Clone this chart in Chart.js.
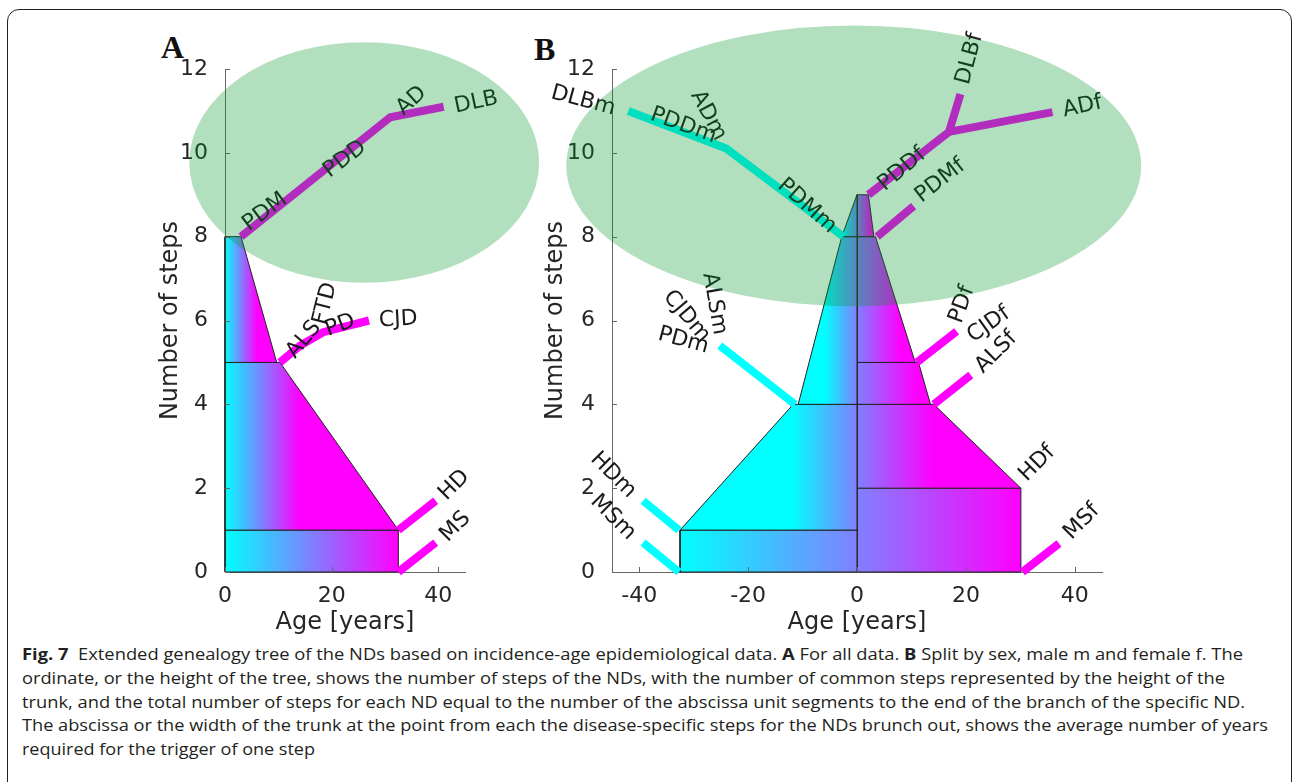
<!DOCTYPE html>
<html>
<head>
<meta charset="utf-8">
<script src="https://cdn.jsdelivr.net/npm/chart.js@4.4.1/dist/chart.umd.min.js"></script>
<style>
  body { margin: 0; background: #fff; width: 1292px; height: 782px; overflow: hidden; position: relative; }
  .frame { position: absolute; left: 7px; top: 9px; width: 1283px; height: 820px; border: 1.3px solid #222; border-radius: 12px; }
  canvas { position: absolute; }
  #chartA { left: 140px; top: 20px; }
  #chartB { left: 540px; top: 20px; }
  .panel { position: absolute; font: bold 32px "Liberation Serif", serif; line-height: 32px; color: #111; }
  .caption { position: absolute; left: 22px; top: 643px; font: 16px "Open Sans", sans-serif; color: #231f20; }
  .caption div { height: 23.75px; line-height: 23.75px; white-space: nowrap; }
  .caption .line { display: inline-block; transform-origin: 0 0; }
</style>
</head>
<body>
<div class="frame"></div>
<div class="panel" style="left:161px; top:31px">A</div>
<div class="panel" style="left:534px; top:33px">B</div>
<canvas id="chartA" width="400" height="620"></canvas>
<canvas id="chartB" width="620" height="620"></canvas>
<div class="caption">
  <div><span class="line"><b>Fig. 7</b>&nbsp; Extended genealogy tree of the NDs based on incidence-age epidemiological data. <b>A</b> For all data. <b>B</b> Split by sex, male m and female f. The</span></div>
  <div><span class="line">ordinate, or the height of the tree, shows the number of steps of the NDs, with the number of common steps represented by the height of the</span></div>
  <div><span class="line">trunk, and the total number of steps for each ND equal to the number of the abscissa unit segments to the end of the branch of the specific ND.</span></div>
  <div><span class="line">The abscissa or the width of the trunk at the point from each the disease-specific steps for the NDs brunch out, shows the average number of years</span></div>
  <div><span class="line">required for the trigger of one step</span></div>
</div>
<script>
// caption lines stretched to the widths of the printed figure
const captionWidths = [1221, 1203, 1223, 1246, 293];
document.querySelectorAll('.caption .line').forEach((el, i) => {
  const w = el.getBoundingClientRect().width;
  el.style.transform = 'scaleX(' + (captionWidths[i] / w) + ')';
});

// ---- axes ----
const stepTicks = [0, 2, 4, 6, 8, 10, 12];
const ageTicksA = [0, 20, 40];
const ageTicksB = [-40, -20, 0, 20, 40];

// ---- A: all data, [age, steps] ----
const trunkA1 = [[0, 0], [32.5, 0], [32.5, 1], [0, 1]];
const trunkA2 = [[0, 1], [32.5, 1], [10.3, 5], [0, 5]];
const trunkA3 = [[0, 5], [9.7, 5], [3, 8], [0, 8]];

const branchDementia = [[3, 8], [31, 10.85], [41, 11.1]];
const branchALS = [[10.3, 5], [14.1, 5.4], [18.4, 5.72], [27, 6]];
const branchHD = [[32.5, 1], [39.5, 1.7]];
const branchMS = [[32.5, 0], [39.5, 0.7]];

const labelsA = [
  ['PDM', 7.5, 8.59, -37], ['PDD', 22.5, 9.85, -37], ['AD', 35.0, 11.24, -42], ['DLB', 47.1, 11.2, -12],
  ['ALS', 14.8, 5.54, -50], ['FTD', 18.8, 6.4, -76], ['PD', 21.6, 5.88, -20], ['CJD', 32.5, 6.02, -3],
  ['HD', 43, 2.07, -45], ['MS', 43.2, 1.08, -45]
];
const clusterA = [26.1, 9.77, 32.8, 2.87]; // centre age, centre steps, half width, half height

// ---- B: male (negative age) and female ----
const trunkM1 = [[-32.5, 0], [0, 0], [0, 1], [-32.5, 1]];
const trunkM2 = [[-32.5, 1], [0, 1], [0, 4], [-11.7, 4]];
const trunkM3 = [[-10.8, 4], [0, 4], [0, 8], [-2.8, 8]];
const trunkM4 = [[-2.8, 8], [0, 8], [0, 9]];
const trunkF1 = [[0, 0], [30.1, 0], [30.1, 2], [0, 2]];
const trunkF2 = [[0, 2], [30.1, 2], [14.1, 4], [0, 4]];
const trunkF3 = [[0, 4], [13.5, 4], [11.3, 5], [0, 5]];
const trunkF4 = [[0, 5], [10.7, 5], [3.4, 8], [0, 8]];
const trunkF5 = [[0, 8], [3.1, 8], [2.1, 9], [0, 9]];

const branchDementiaM = [[-2.5, 8], [-24, 10.1], [-42, 11]];
const branchALSM = [[-11.4, 4], [-25.2, 5.4]];
const branchHDM = [[-32.7, 1], [-39.3, 1.7]];
const branchMSM = [[-32.7, 0], [-39.3, 0.7]];
const branchDementiaF = [[2.1, 9], [16.9, 10.5], [19, 11.4]];
const branchADF = [[16.9, 10.5], [35.9, 10.97]];
const branchPDMF = [[3.7, 8], [10.4, 8.73]];
const branchPDF = [[11, 5], [18.3, 5.74]];
const branchALSF = [[14.1, 4], [20.9, 4.7]];
const branchMSF = [[30.4, 0], [37.1, 0.68]];

const labelsB = [
  ['DLBm', -50.3, 11.24, 15], ['PDDm', -31.9, 10.65, 20], ['ADm', -27.3, 10.89, 62], ['PDMm', -9.2, 8.73, 42],
  ['ALSm', -26.2, 6.4, 80], ['CJDm', -31.3, 6.1, 50], ['PDm', -31.9, 5.52, 15],
  ['HDm', -44.8, 2.31, 45], ['MSm', -44.8, 1.3, 45],
  ['PDDf', 8.3, 9.6, -40], ['PDMf', 15.3, 9.33, -38], ['DLBf', 20.7, 12.24, -75], ['ADf', 41.4, 11.1, -12],
  ['PDf', 19.3, 6.38, -70], ['CJDf', 24.2, 5.9, -35], ['ALSf', 25.6, 5.24, -45],
  ['HDf', 33.1, 2.59, -45], ['MSf', 41.3, 1.2, -45]
];
const clusterB = [-0.6, 9.69, 52.8, 3.35];

const CYAN = 'rgb(0,255,255)', MAGENTA = 'rgb(255,0,255)', MID = 'rgb(128,128,255)';
const FONT = '"DejaVu Sans", sans-serif';

const pts = arr => arr.map(([x, y]) => ({x, y}));

function branch(arr, color) {
  return { data: pts(arr), borderColor: color, borderWidth: 8, borderCapStyle: 'butt', borderJoinStyle: 'miter',
           fill: false, pointRadius: 0, tension: 0, clip: false };
}

function tier(arr, from, to, c0, c1) {
  return {
    data: pts([...arr, arr[0]]), borderColor: '#222', borderWidth: 1, fill: 'shape', pointRadius: 0, tension: 0, clip: false,
    backgroundColor: c => {
      const sx = c.chart.scales.x;
      if (!sx) return c0;
      const x0 = sx.getPixelForValue(from), x1 = sx.getPixelForValue(to);
      if (!isFinite(x0) || !isFinite(x1) || x0 === x1) return c0;
      const g = c.chart.ctx.createLinearGradient(x0, 0, x1, 0);
      g.addColorStop(0, c0);
      g.addColorStop(1, c1);
      return g;
    }
  };
}

// inward ticks, branch names and the translucent cluster ellipse
function decor(labels, cluster) {
  return {
    id: 'decor',
    afterDraw(chart) {
      const {ctx, scales: {x, y}} = chart;
      ctx.save();
      ctx.strokeStyle = '#666';
      ctx.lineWidth = 1;
      ctx.beginPath();
      x.ticks.forEach(t => {
        const px = Math.round(x.getPixelForValue(t.value)) + 0.5;
        ctx.moveTo(px, y.bottom); ctx.lineTo(px, y.bottom - 5);
      });
      y.ticks.forEach(t => {
        const py = Math.round(y.getPixelForValue(t.value)) + 0.5;
        ctx.moveTo(x.left, py); ctx.lineTo(x.left + 5, py);
      });
      ctx.stroke();

      ctx.font = '22px ' + FONT;
      ctx.fillStyle = '#1a1a1a';
      ctx.textAlign = 'center';
      ctx.textBaseline = 'middle';
      labels.forEach(([text, age, steps, rot]) => {
        ctx.save();
        ctx.translate(x.getPixelForValue(age), y.getPixelForValue(steps));
        ctx.rotate(rot * Math.PI / 180);
        ctx.fillText(text, 0, 0);
        ctx.restore();
      });

      const [cx, cy, rx, ry] = cluster;
      const px = x.getPixelForValue(cx), py = y.getPixelForValue(cy);
      ctx.fillStyle = 'rgba(0,150,40,0.3)';
      ctx.beginPath();
      ctx.ellipse(px, py, Math.abs(x.getPixelForValue(cx + rx) - px), Math.abs(y.getPixelForValue(cy + ry) - py), 0, 0, Math.PI * 2);
      ctx.fill();
      ctx.restore();
    }
  };
}

function scales(xMin, xMax, xTicks, yWidth, yTitlePad) {
  const tickFont = {family: FONT, size: 22};
  const titleFont = {family: FONT, size: 24};
  return {
    x: {
      type: 'linear', min: xMin, max: xMax,
      afterBuildTicks: s => { s.ticks = xTicks.map(v => ({value: v})); },
      afterFit: s => { s.height = 68; },
      grid: {display: false},
      border: {display: true, color: '#666'},
      ticks: {font: tickFont, color: '#262626', padding: 3, maxRotation: 0, autoSkip: false},
      title: {display: true, text: 'Age [years]', font: titleFont, color: '#262626', padding: {top: 0, bottom: 3}}
    },
    y: {
      type: 'linear', min: 0, max: 12,
      afterBuildTicks: s => { s.ticks = stepTicks.map(v => ({value: v})); },
      afterFit: s => { s.width = yWidth; },
      grid: {display: false},
      border: {display: true, color: '#666'},
      ticks: {font: tickFont, color: '#262626', padding: 9},
      title: {display: true, text: 'Number of steps', font: titleFont, color: '#262626', padding: {top: yTitlePad, bottom: 0}}
    }
  };
}

const common = {
  responsive: false, animation: false, events: [],
  plugins: {legend: {display: false}, tooltip: {enabled: false}}
};

const chartA = new Chart(document.getElementById('chartA'), {
  type: 'line',
  data: {
    datasets: [
      branch(branchDementia, MAGENTA), branch(branchALS, MAGENTA), branch(branchHD, MAGENTA), branch(branchMS, MAGENTA),
      tier(trunkA3, 0, 6, CYAN, MAGENTA), tier(trunkA2, 0, 14, CYAN, MAGENTA), tier(trunkA1, 0, 32.5, CYAN, MAGENTA)
    ]
  },
  options: Object.assign({}, common, {
    layout: {padding: {left: 0, right: 75, top: 49, bottom: 0}},
    scales: scales(0, 45, ageTicksA, 85, 16)
  }),
  plugins: [decor(labelsA, clusterA)]
});

const chartB = new Chart(document.getElementById('chartB'), {
  type: 'line',
  data: {
    datasets: [
      branch(branchDementiaM, CYAN), branch(branchALSM, CYAN), branch(branchHDM, CYAN), branch(branchMSM, CYAN),
      branch(branchDementiaF, MAGENTA), branch(branchADF, MAGENTA), branch(branchPDMF, MAGENTA),
      branch(branchPDF, MAGENTA), branch(branchALSF, MAGENTA), branch(branchMSF, MAGENTA),
      tier(trunkM4, -2.8, 0, CYAN, MID), tier(trunkM3, -6, 0, CYAN, MID), tier(trunkM2, -12, 0, CYAN, MID), tier(trunkM1, -32.5, 0, CYAN, MID),
      tier(trunkF5, 0, 2.5, MID, MAGENTA), tier(trunkF4, 0, 8, MID, MAGENTA), tier(trunkF3, 0, 11, MID, MAGENTA),
      tier(trunkF2, 0, 14, MID, MAGENTA), tier(trunkF1, 0, 30, MID, MAGENTA)
    ]
  },
  options: Object.assign({}, common, {
    layout: {padding: {left: 0, right: 58, top: 49, bottom: 0}},
    scales: scales(-45, 45, ageTicksB, 72, 1)
  }),
  plugins: [decor(labelsB, clusterB)]
});

// second pass so the gradients see the finished scales
chartA.update();
chartB.update();
</script>
</body>
</html>
